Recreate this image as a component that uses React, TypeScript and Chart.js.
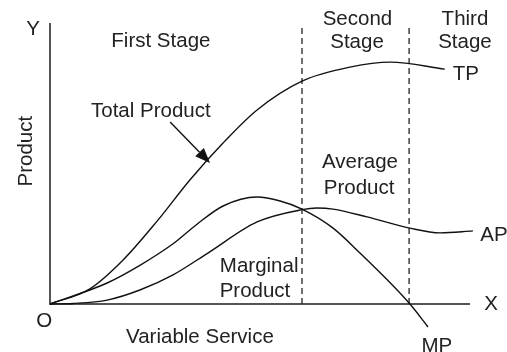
import React, { useEffect, useRef } from "react";
import { Chart, registerables } from "chart.js";

Chart.register(...registerables);

// Input units along X (variable service)
const tpX = [0, 0.95, 1.74, 2.55, 3.33, 4.12, 4.93, 6.0, 7.14, 8.1, 9.4];
const tpY = [0, 5.4, 15.7, 29.6, 44.3, 57.5, 69.3, 79.6, 84.6, 86.4, 83.9];

const mpX = [0, 1.36, 2.14, 2.93, 3.5, 4.12, 4.93, 5.48, 6.0, 6.74, 7.38, 8.57, 9.0];
const mpY = [0, 7.5, 13.8, 21.5, 28.5, 35, 38.2, 36.8, 33.9, 27.1, 18.2, 0, -8.2];

const apX = [0, 0.55, 1.36, 2.14, 2.93, 3.76, 4.93, 6.0, 6.35, 6.74, 7.55, 8.57, 9.29, 10.07];
const apY = [0, 0.2, 1.4, 5, 10.4, 18.2, 29.3, 33.7, 34.3, 33.9, 31.1, 27.1, 25.4, 26.1];

const stageBounds = [6.0, 8.55];
const axisXMax = 10;
const axisYMax = 100;

const labelTexts = [
  "Y", "O", "X", "First Stage", "Total Product", "Second", "Stage", "Third", "Stage",
  "TP", "Average", "Product", "AP", "MP", "Marginal", "Product", "Variable Service",
];
const labelX = [-0.405, -0.14, 10.5, 2.64, 2.4, 7.32, 7.31, 9.88, 9.88, 9.9, 7.38, 7.36, 10.57, 9.21, 4.98, 4.88, 3.57];
const labelY = [96.1, -8.2, -2.1, 91.8, 66.8, 99.6, 91.4, 99.6, 91.4, 80, 48.6, 39.3, 22.5, -17.1, 11.4, 2.5, -13.9];

const yTitle = "Product";

const toPts = (xs: number[], ys: number[]) => xs.map((x, i) => ({ x, y: ys[i] }));

const decorPlugin = {
  id: "decor",
  beforeDatasetsDraw(chart: any) {
    const ctx = chart.ctx;
    const xs = chart.scales.x;
    const ys = chart.scales.y;
    ctx.save();
    // axes
    ctx.strokeStyle = "#555";
    ctx.lineWidth = 2;
    ctx.beginPath();
    ctx.moveTo(xs.getPixelForValue(0), ys.getPixelForValue(axisYMax + 0.4));
    ctx.lineTo(xs.getPixelForValue(0), ys.getPixelForValue(0));
    ctx.lineTo(xs.getPixelForValue(axisXMax), ys.getPixelForValue(0));
    ctx.stroke();
    // stage boundaries
    ctx.strokeStyle = "#222";
    ctx.lineWidth = 1.3;
    ctx.setLineDash([6, 4]);
    stageBounds.forEach((b) => {
      ctx.beginPath();
      ctx.moveTo(xs.getPixelForValue(b), ys.getPixelForValue(98.6));
      ctx.lineTo(xs.getPixelForValue(b), ys.getPixelForValue(0));
      ctx.stroke();
    });
    ctx.restore();
  },
  afterDatasetsDraw(chart: any) {
    const ctx = chart.ctx;
    const xs = chart.scales.x;
    const ys = chart.scales.y;
    ctx.save();
    ctx.fillStyle = "#222";
    ctx.font = "20.5px 'Liberation Sans', Arial, sans-serif";
    ctx.textAlign = "center";
    ctx.textBaseline = "alphabetic";
    labelTexts.forEach((t, i) => {
      ctx.fillText(t, xs.getPixelForValue(labelX[i]), ys.getPixelForValue(labelY[i]));
    });
    // rotated y title
    ctx.save();
    ctx.translate(xs.getPixelForValue(-0.43), ys.getPixelForValue(54.6));
    ctx.rotate(-Math.PI / 2);
    ctx.fillText(yTitle, 0, 0);
    ctx.restore();
    // arrow pointing at TP
    const x1 = xs.getPixelForValue(2.86), y1 = ys.getPixelForValue(65);
    const x2 = xs.getPixelForValue(3.81), y2 = ys.getPixelForValue(50.4);
    const ang = Math.atan2(y2 - y1, x2 - x1);
    const L = 15, W = 6;
    ctx.strokeStyle = "#111";
    ctx.lineWidth = 1.4;
    ctx.beginPath();
    ctx.moveTo(x1, y1);
    ctx.lineTo(x2 - L * Math.cos(ang), y2 - L * Math.sin(ang));
    ctx.stroke();
    ctx.beginPath();
    ctx.moveTo(x2, y2);
    ctx.lineTo(x2 - L * Math.cos(ang) + W * Math.sin(ang), y2 - L * Math.sin(ang) - W * Math.cos(ang));
    ctx.lineTo(x2 - L * Math.cos(ang) - W * Math.sin(ang), y2 - L * Math.sin(ang) + W * Math.cos(ang));
    ctx.closePath();
    ctx.fillStyle = "#111";
    ctx.fill();
    ctx.restore();
  },
};

export default function App() {
  const ref = useRef<HTMLCanvasElement>(null);
  useEffect(() => {
    if (!ref.current) return;
    const line = (label: string, data: any[]) => ({
      label,
      data,
      showLine: true,
      borderColor: "#111",
      borderWidth: 1.4,
      pointRadius: 0,
      cubicInterpolationMode: "monotone",
      fill: false,
    });
    const chart = new Chart(ref.current, {
      type: "scatter",
      data: {
        datasets: [
          line("TP", toPts(tpX, tpY)),
          line("AP", toPts(apX, apY)),
          line("MP", toPts(mpX, mpY)),
        ],
      },
      options: {
        animation: false,
        responsive: false,
        devicePixelRatio: 1,
        layout: { padding: { left: 50, right: 16, top: 24, bottom: 20 } },
        plugins: { legend: { display: false }, tooltip: { enabled: false } },
        scales: {
          x: { type: "linear", min: 0, max: 10.5, display: false },
          y: { type: "linear", min: -10, max: 100, display: false },
        },
      },
      plugins: [decorPlugin],
    } as any);
    return () => chart.destroy();
  }, []);
  return (
    <div style={{ position: "absolute", left: 0, top: 0, width: 507, height: 352, background: "#fff" }}>
      <canvas ref={ref} width={507} height={352} />
    </div>
  );
}
